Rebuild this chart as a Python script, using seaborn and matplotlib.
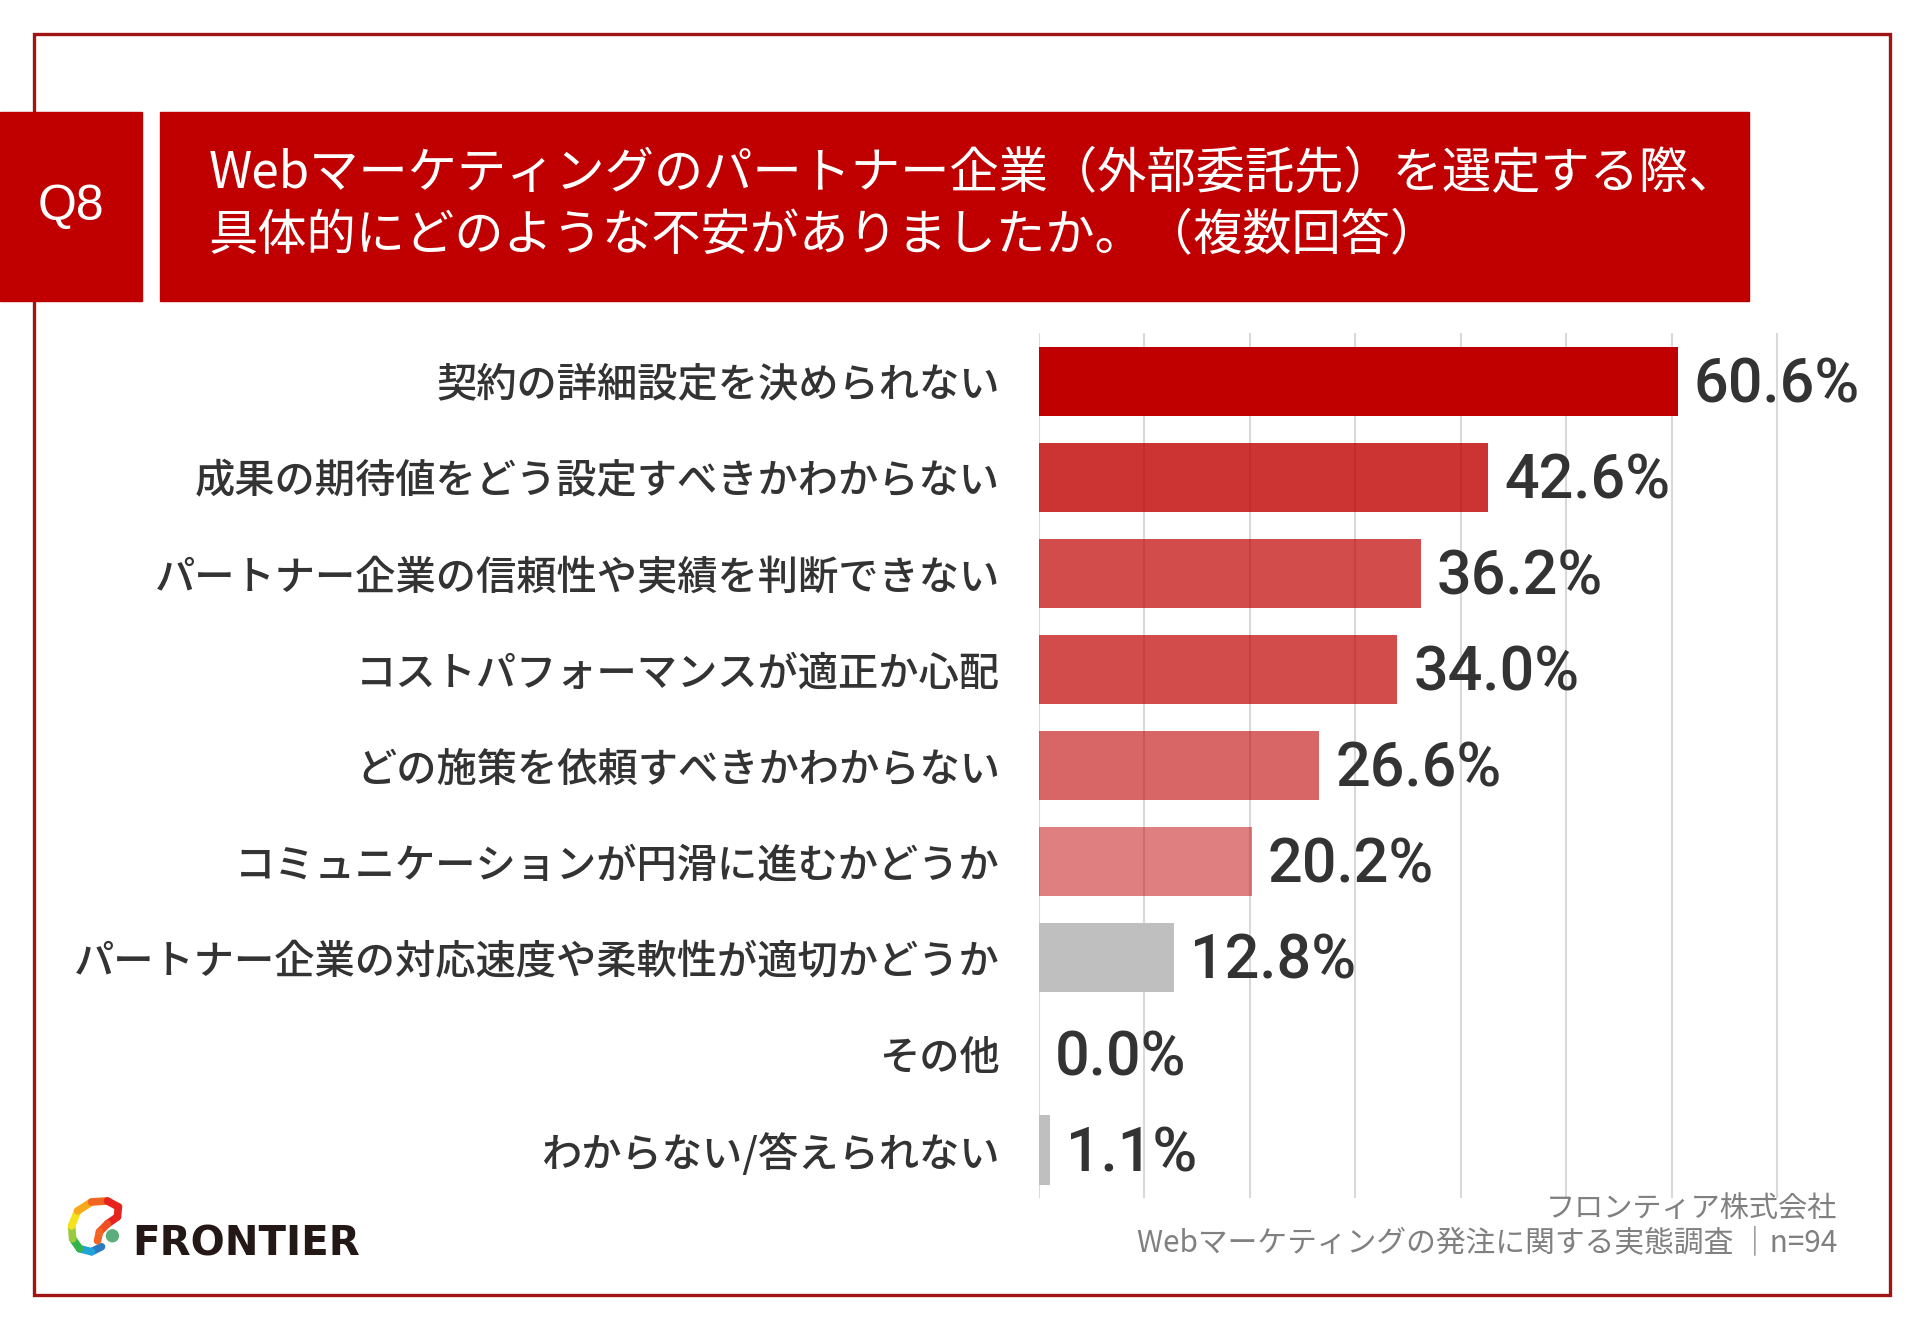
import matplotlib
matplotlib.use("Agg")
import matplotlib.pyplot as plt
import matplotlib.patches as mpatches
import seaborn as sns
import pandas as pd

# Data
categories = [
    "契約の詳細設定を決められない",
    "成果の期待値をどう設定すべきかわからない",
    "パートナー企業の信頼性や実績を判断できない",
    "コストパフォーマンスが適正か心配",
    "どの施策を依頼すべきかわからない",
    "コミュニケーションが円滑に進むかどうか",
    "パートナー企業の対応速度や柔軟性が適切かどうか",
    "その他",
    "わからない/答えられない",
]
values = [60.6, 42.6, 36.2, 34.0, 26.6, 20.2, 12.8, 0.0, 1.1]
bar_colors = [
    (0.753, 0.0, 0.0, 1.0),
    (0.753, 0.0, 0.0, 0.8),
    (0.753, 0.0, 0.0, 0.7),
    (0.753, 0.0, 0.0, 0.7),
    (0.753, 0.0, 0.0, 0.6),
    (0.753, 0.0, 0.0, 0.5),
    "#BFBFBF",
    "#BFBFBF",
    "#BFBFBF",
]
title_lines = [
    "Webマーケティングのパートナー企業（外部委託先）を選定する際、",
    "具体的にどのような不安がありましたか。（複数回答）",
]
source_lines = [
    "フロンティア株式会社",
    "Webマーケティングの発注に関する実態調査 ｜n=94",
]

W, H = 1920, 1329
S = 0.995
RED = "#C00000"

sns.set_style("white")
plt.rcParams["font.family"] = ["Noto Sans CJK JP", "DejaVu Sans"]


def fx(x):
    return x * S / W


def fy(y):
    return 1 - y * S / H


fig = plt.figure(figsize=(W / 100, H / 100), dpi=100)

# outer frame
fig.patches.append(mpatches.Rectangle((fx(34), fy(1302)), fx(1899) - fx(34), fy(34) - fy(1302),
                                      transform=fig.transFigure, fill=False,
                                      edgecolor="#A01414", lw=2.4, zorder=0))
# header boxes
fig.patches.append(mpatches.Rectangle((fx(0), fy(303)), fx(143), fy(113) - fy(303),
                                      transform=fig.transFigure, color=RED, zorder=1))
fig.patches.append(mpatches.Rectangle((fx(161), fy(303)), fx(1758) - fx(161), fy(113) - fy(303),
                                      transform=fig.transFigure, color=RED, zorder=1))
fig.text(fx(71), fy(208), "Q8", color="white", fontsize=36, ha="center", va="center",
         family=["Liberation Sans", "DejaVu Sans"])
fig.text(fx(210), fy(175), title_lines[0], color="white", fontsize=35.5, ha="left", va="center")
fig.text(fx(210), fy(236), title_lines[1], color="white", fontsize=35.5, ha="left", va="center")

# chart
ax = fig.add_axes([fx(1044), fy(1204), fx(795), fy(335) - fy(1204)])
df = pd.DataFrame({"category": categories, "value": values})
sns.barplot(data=df, x="value", y="category", hue="category", palette=["#BFBFBF"] * len(categories),
            legend=False, width=0.72, ax=ax, saturation=1)
for cont, col in zip(ax.containers, bar_colors):
    for bar in cont:
        bar.set_facecolor(col)
        bar.set_edgecolor("none")
        bar.set_zorder(2)

for i, v in enumerate(values):
    ax.annotate(f"{v:.1f}%", xy=(v, i), xytext=(11.5, -3), textcoords="offset points",
                ha="left", va="center", fontsize=44, color="#333333", fontweight="medium",
                family=["Roboto", "DejaVu Sans"], annotation_clip=False)

ax.set_xlim(0, 75)
ax.set_ylim(8.5, -0.5)
ax.set_xticks(range(0, 71, 10))
ax.grid(axis="x", color="#D9D9D9", lw=1.5, zorder=0)
ax.set_axisbelow(True)
ax.tick_params(axis="x", length=0, labelbottom=False)
ax.tick_params(axis="y", length=0, pad=28, labelsize=29, labelcolor="#333333")
for lab in ax.get_yticklabels():
    lab.set_fontweight("medium")
ax.set_xlabel("")
ax.set_ylabel("")
sns.despine(ax=ax, left=True, bottom=True)

# source
fig.text(fx(1846), fy(1216), source_lines[0], color="#808080", fontsize=21, ha="right", va="center")
fig.text(fx(1846), fy(1249), source_lines[1], color="#808080", fontsize=21.4, ha="right", va="center")

# logo mark (rough swirl + dot)
lax = fig.add_axes([fx(60), fy(1275), fx(160) - fx(60), fy(1195) - fy(1275)])
lax.set_xlim(0, 100)
lax.set_ylim(80, 0)
lax.axis("off")
swirl = [(42, 58), (32, 63), (20, 60), (13, 50), (12, 37), (18, 22), (32, 13), (48, 12),
         (59, 18), (58, 28), (48, 35), (40, 43), (38, 52)]
swirl_cols = ["#2B7BC0", "#1FA3D9", "#33B34A", "#9BCB3C", "#F5E21A", "#F7A81B", "#F26522",
              "#E8231E", "#E8231E", "#E8231E", "#F04E23", "#F26522"]
for (p, q), c in zip(zip(swirl[:-1], swirl[1:]), swirl_cols):
    lax.plot([p[0], q[0]], [p[1], q[1]], color=c, lw=5.5, solid_capstyle="round")
lax.add_patch(mpatches.Circle((53, 47), 6, color="#5BAE7A"))
fig.text(fx(133), fy(1251), "FRONTIER", color="#231815", fontsize=29, fontweight="bold",
         ha="left", va="center", family=["DejaVu Sans"])

fig.savefig("out.png", dpi=100)
